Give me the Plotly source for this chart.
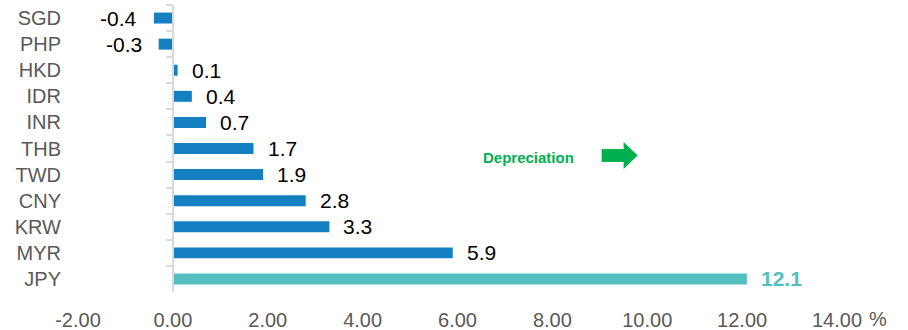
import plotly.graph_objects as go

currencies = ["SGD", "PHP", "HKD", "IDR", "INR", "THB", "TWD", "CNY", "KRW", "MYR", "JPY"]
changes = [-0.4, -0.3, 0.1, 0.4, 0.7, 1.7, 1.9, 2.8, 3.3, 5.9, 12.1]
highlight = "JPY"
x_ticks = [-2, 0, 2, 4, 6, 8, 10, 12, 14]
x_tick_labels = [f"{v:.2f}" for v in x_ticks]
x_min, x_max = -2, 14

BLUE = "#1580C1"
TEAL = "#55BFBF"
GREEN = "#00B050"
GREY_TXT = "#595959"
AXIS_GREY = "#D9D9D9"
FONT = "Arial, Liberation Sans, sans-serif"

colors = [TEAL if c == highlight else BLUE for c in currencies]
y_range = [len(currencies) - 0.5, -0.5]

fig = go.Figure()
fig.add_trace(go.Bar(
    x=changes, y=currencies, orientation="h",
    marker=dict(color=colors, line=dict(width=0)),
    hoverinfo="skip",
))
# invisible trace to carry the category axis drawn at x = 0
fig.add_trace(go.Scatter(
    x=changes, y=currencies, yaxis="y2", mode="markers",
    marker=dict(opacity=0), hoverinfo="skip", showlegend=False,
))

for c, v in zip(currencies, changes):
    is_hi = c == highlight
    fig.add_annotation(
        x=v, y=c, xref="x", yref="y",
        text=f"<b>{v:.1f}</b>" if is_hi else f"{v:.1f}",
        showarrow=False,
        xanchor="left" if v >= 0 else "right",
        xshift=12 if v >= 0 else -15,
        font=dict(family=FONT, size=21, color=TEAL if is_hi else "#000000"),
    )

# "%" unit after last tick label
fig.add_annotation(
    x=x_ticks[-1], y=0, xref="x", yref="paper",
    text="%", showarrow=False, xanchor="left", yanchor="middle",
    xshift=30, yshift=-27,
    font=dict(family=FONT, size=20, color=GREY_TXT),
)

# Depreciation note with block arrow
fig.add_annotation(
    x=(481 - 78) / (837.5 - 78), y=0.467, xref="paper", yref="paper",
    text="<b>Depreciation</b>", showarrow=False, xanchor="left", yanchor="middle",
    font=dict(family=FONT, size=15, color=GREEN),
)
def px(xp):
    return (xp - 78) / (837.5 - 78)
def py(yp):
    return (292 - yp) / (292 - 5)
arrow_path = (
    f"M {px(602)},{py(149)} L {px(624)},{py(149)} L {px(624)},{py(142)} "
    f"L {px(638)},{py(155.5)} L {px(624)},{py(169)} L {px(624)},{py(162)} "
    f"L {px(602)},{py(162)} Z"
)
fig.add_shape(type="path", xref="paper", yref="paper", path=arrow_path,
              fillcolor=GREEN, line=dict(width=0))

zero_pos = (0 - x_min) / (x_max - x_min)

fig.update_layout(
    width=908, height=330,
    margin=dict(l=78, r=70.5, t=5, b=38, autoexpand=False),
    paper_bgcolor="white", plot_bgcolor="white",
    showlegend=False,
    bargap=0.58,
    font=dict(family=FONT),
    xaxis=dict(
        range=[x_min, x_max], tickvals=x_ticks, ticktext=x_tick_labels,
        showgrid=False, zeroline=False, showline=False, ticks="",
        tickfont=dict(family=FONT, size=20, color=GREY_TXT),
        ticklabelstandoff=14, automargin=False,
    ),
    yaxis=dict(
        type="category", categoryorder="array", categoryarray=currencies,
        range=y_range, autorange=False, showgrid=False, zeroline=False, showline=False,
        ticks="", tickfont=dict(family=FONT, size=20, color=GREY_TXT),
        ticklabelstandoff=16, automargin=False,
    ),
    yaxis2=dict(
        type="category", categoryorder="array", categoryarray=currencies,
        range=y_range, autorange=False,
        overlaying="y", anchor="free", position=zero_pos, side="left",
        showgrid=False, zeroline=False, showline=True, linecolor=AXIS_GREY, linewidth=2,
        ticks="outside", tickson="boundaries", ticklen=6, tickcolor=AXIS_GREY, tickwidth=1.5,
        showticklabels=False, automargin=False,
    ),
)

fig.write_html("out.html")
